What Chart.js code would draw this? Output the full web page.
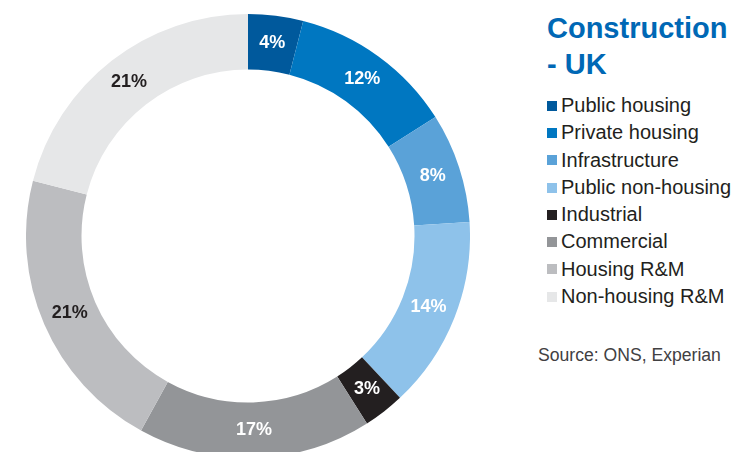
<!DOCTYPE html>
<html>
<head>
<meta charset="utf-8">
<script src="https://cdn.jsdelivr.net/npm/chart.js@4"></script>
<style>
    html, body { margin: 0; padding: 0; background: #fff; overflow: hidden; }
    body { width: 735px; height: 452px; position: relative; font-family: "Liberation Sans", Arial, sans-serif; }
    #chartBox { position: absolute; left: 26px; top: 14px; width: 444px; height: 444px; }
    #title { position: absolute; left: 547px; top: 10px; color: #0068b5; font-weight: bold; font-size: 29px; line-height: 36px; }
    #legend { position: absolute; left: 547px; top: 92px; color: #231f20; font-size: 20px; }
    #legend .row { height: 27.3px; line-height: 27.3px; white-space: nowrap; display: flex; align-items: center; }
    #legend .box { width: 10px; height: 10px; margin-right: 4px; }
    #source { position: absolute; left: 538px; top: 345px; color: #414042; font-size: 17.6px; }
</style>
</head>
<body>
<div id="chartBox"><canvas id="sectorChart" width="444" height="444"></canvas></div>
<div id="title">Construction<br>- UK</div>
<div id="legend"></div>
<div id="source">Source: ONS, Experian</div>
<script>
    // data
    const sectors = ['Public housing', 'Private housing', 'Infrastructure', 'Public non-housing',
        'Industrial', 'Commercial', 'Housing R&M', 'Non-housing R&M'];
    const shares = [4, 12, 8, 14, 3, 17, 21, 21];
    const sectorColors = ['#00599c', '#0077c1', '#5aa2d8', '#8ec2ea', '#231f20', '#939598', '#bcbdc0', '#e6e7e8'];
    const labelColors = ['#fff', '#fff', '#fff', '#fff', '#fff', '#fff', '#231f20', '#231f20'];

    //legend
    const legend = document.getElementById('legend');
    sectors.forEach(function (name, i) {
        const row = document.createElement('div');
        row.className = 'row';
        const box = document.createElement('span');
        box.className = 'box';
        box.style.background = sectorColors[i];
        row.appendChild(box);
        row.appendChild(document.createTextNode(name));
        legend.appendChild(row);
    });

    // percent labels on the ring
    const arcLabels = {
        id: 'arcLabels',
        afterDatasetsDraw(chart) {
            const ctx = chart.ctx;
            const meta = chart.getDatasetMeta(0);
            ctx.save();
            ctx.font = 'bold 18px "Liberation Sans", Arial, sans-serif';
            ctx.textAlign = 'center';
            ctx.textBaseline = 'middle';
            meta.data.forEach(function (arc, i) {
                const pos = arc.tooltipPosition();
                ctx.fillStyle = labelColors[i];
                ctx.fillText(shares[i] + '%', pos.x, pos.y);
            });
            ctx.restore();
        }
    };

    new Chart(document.getElementById('sectorChart'), {
        type: 'doughnut',
        data: {
            labels: sectors,
            datasets: [{
                data: shares,
                backgroundColor: sectorColors,
                borderWidth: 0
            }]
        },
        options: {
            responsive: false,
            animation: false,
            cutout: '75%',
            layout: { padding: 0 },
            plugins: {
                legend: { display: false },
                tooltip: { enabled: false }
            }
        },
        plugins: [arcLabels]
    });
</script>
</body>
</html>
